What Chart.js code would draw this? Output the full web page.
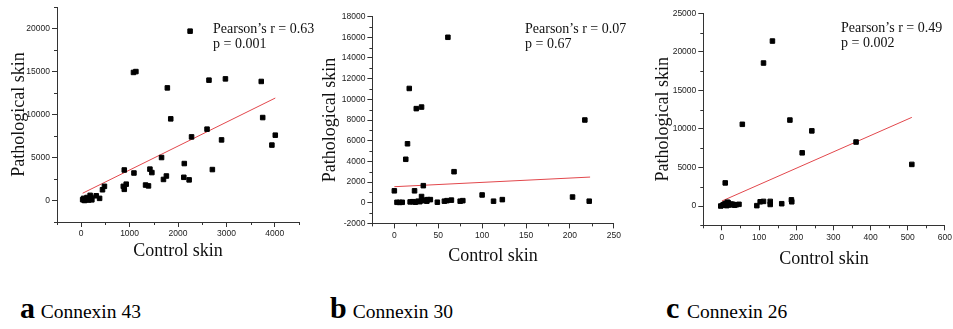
<!DOCTYPE html>
<html>
<head>
<meta charset="utf-8">
<script src="https://cdn.jsdelivr.net/npm/chart.js@4.4.1/dist/chart.umd.min.js"></script>
<style>
  html, body { margin: 0; padding: 0; background: #fff; width: 953px; height: 329px; overflow: hidden; }
  canvas { position: absolute; }
  .ann { position: absolute; font-family: 'Liberation Serif', 'Times New Roman', serif; font-size: 14px; line-height: 15px; color: #111; white-space: nowrap; }
  .cap-l { position: absolute; font-family: 'Liberation Serif', 'Times New Roman', serif; font-weight: bold; font-size: 30px; line-height: 30px; color: #000; }
  .cap-t { position: absolute; font-family: 'Liberation Serif', 'Times New Roman', serif; font-size: 19.5px; line-height: 19.5px; color: #000; white-space: nowrap; }
</style>
</head>
<body>
<canvas id="ca" width="320" height="262" style="left:0px;top:0px;width:320px;height:262px"></canvas>
<canvas id="cb" width="324" height="267" style="left:310px;top:0px;width:324px;height:267px"></canvas>
<canvas id="cc" width="324" height="270" style="left:630px;top:0px;width:324px;height:270px"></canvas>

<div class="ann" style="left:213px;top:20.5px">Pearson’s r = 0.63<br>p = 0.001</div>
<div class="ann" style="left:525px;top:20.5px">Pearson’s r = 0.07<br>p = 0.67</div>
<div class="ann" style="left:841px;top:19.5px">Pearson’s r = 0.49<br>p = 0.002</div>

<span class="cap-l" style="left:20px;top:293px">a</span><span class="cap-t" style="left:40.7px;top:301.7px">Connexin 43</span>
<span class="cap-l" style="left:330px;top:293px">b</span><span class="cap-t" style="left:352.7px;top:301.7px">Connexin 30</span>
<span class="cap-l" style="left:666px;top:293px">c</span><span class="cap-t" style="left:687px;top:301.7px">Connexin 26</span>

<script>
// ---------- Panel a: Connexin 43 ----------
const a_control = [30, 50, 70, 100, 120, 150, 170, 185, 210, 220, 60,
  310, 380, 440, 480, 870, 890, 890, 930, 1090, 1080, 1130,
  1330, 1390, 1420, 1460, 1660, 1700, 1760, 1780, 1850,
  2120, 2130, 2230, 2250, 2280, 2600, 2640, 2710, 2900, 2980,
  3720, 3750, 3940, 4010];
const a_patho = [100, 250, 0, 150, 350, 50, 200, 600, 300, 80, 50,
  550, 250, 1250, 1650, 1650, 1300, 3550, 1900, 3200, 14900, 15000,
  1800, 1700, 3650, 3250, 5000, 2450, 2850, 13100, 9500,
  2700, 4300, 2400, 19700, 7400, 8300, 14000, 3600, 7050, 14150,
  13850, 9650, 6450, 7600];
const a_fitX = [30, 4010];
const a_fitY = [850, 11920];
const a_xTicks = [0, 1000, 2000, 3000, 4000];
const a_yTicks = [0, 5000, 10000, 15000, 20000];

// ---------- Panel b: Connexin 30 ----------
const b_control = [0, 3, 6, 9, 13, 15, 17, 18, 21, 23, 24, 25, 27, 29, 31, 31, 32, 33, 35, 37, 38, 41,
  49, 57, 60, 61, 65, 68, 75, 78, 100, 113, 123, 203, 217, 222];
const b_patho = [1150, 40, 30, 40, 4200, 5700, 11050, 80, 100, 1150, 50, 9100, 150, 100, 600, 9250, 200, 1650, 250, 150, 300, 300,
  50, 150, 200, 16000, 250, 3000, 150, 200, 750, 150, 300, 550, 8000, 150];
const b_fitX = [0, 223];
const b_fitY = [1550, 2480];
const b_xTicks = [0, 50, 100, 150, 200, 250];
const b_yTicks = [-2000, 0, 2000, 4000, 6000, 8000, 10000, 12000, 14000, 16000, 18000];

// ---------- Panel c: Connexin 26 ----------
const c_control = [-3, 2, 4, 7, 9, 11, 13, 15, 17, 19, 21, 25, 30, 34, 39, 46, 55, 94, 103, 112, 112, 130, 130, 136,
  161, 183, 187, 188, 216, 242, 361, 511];
const c_patho = [0, 100, 150, 250, 3000, 350, 50, 500, 430, 150, 170, 250, 220, 100, 170, 220, 10600, 50, 550, 600, 18550, 600, 200, 21400,
  300, 11150, 800, 550, 6900, 9750, 8300, 5400];
const c_fitX = [0, 511];
const c_fitY = [650, 11500];
const c_xTicks = [0, 100, 200, 300, 400, 500, 600];
const c_yTicks = [0, 5000, 10000, 15000, 20000, 25000];

const SERIF = "'Liberation Serif', 'Times New Roman', serif";
const SANS = "'Liberation Sans', Arial, sans-serif";
const AXIS_COLOR = '#333';

const minorTicks = {
  id: 'minorTicks',
  afterDraw(chart) {
    const ctx = chart.ctx;
    ctx.save();
    ctx.strokeStyle = AXIS_COLOR;
    ctx.lineWidth = 1;
    const xs = chart.scales.x, ys = chart.scales.y;
    xs.ticks.forEach(t => {
      if (t.major) return;
      const p = Math.round(xs.getPixelForValue(t.value)) + 0.5;
      ctx.beginPath(); ctx.moveTo(p, xs.top); ctx.lineTo(p, xs.top + 3); ctx.stroke();
    });
    ys.ticks.forEach(t => {
      if (t.major) return;
      const p = Math.round(ys.getPixelForValue(t.value)) + 0.5;
      ctx.beginPath(); ctx.moveTo(ys.right, p); ctx.lineTo(ys.right - 3, p); ctx.stroke();
    });
    ctx.restore();
  }
};

function withMinors(majors, min, max) {
  const step = majors[1] - majors[0];
  const out = [];
  for (let v = min; v <= max + 1e-9; v += step / 2) {
    const isMajor = majors.some(m => Math.abs(m - v) < 1e-6);
    out.push({ value: v, major: isMajor });
  }
  return out;
}

function makePanel(id, xs, ys, fx, fy, xTicks, yTicks, lim, lay) {
  const pts = xs.map((x, i) => ({ x: x, y: ys[i] }));
  const fit = fx.map((x, i) => ({ x: x, y: fy[i] }));
  const axisCommon = (ticksArr, mn, mx) => ({
    type: 'linear', min: mn, max: mx,
    afterBuildTicks: s => { s.ticks = withMinors(ticksArr, mn, mx); },
    grid: {
      display: true, drawOnChartArea: false, drawTicks: true, tickLength: 5, tickWidth: 1,
      tickColor: c => (c.tick && c.tick.major) ? AXIS_COLOR : 'rgba(0,0,0,0)'
    },
    border: { display: true, color: AXIS_COLOR, width: 1 },
    ticks: {
      autoSkip: false, maxRotation: 0, minRotation: 0, padding: 2,
      font: { family: SANS, size: 8.5 }, color: '#222',
      callback: (v, i, arr) => arr[i].major ? String(v) : ''
    }
  });
  const xAxis = axisCommon(xTicks, lim.xmin, lim.xmax);
  xAxis.title = { display: true, text: 'Control skin', color: '#111', font: { family: SERIF, size: 18 }, padding: { top: 0, bottom: 0 } };
  xAxis.afterFit = s => { s.height = lay.xh; };
  const yAxis = axisCommon(yTicks, lim.ymin, lim.ymax);
  yAxis.title = { display: true, text: 'Pathological skin', color: '#111', font: { family: SERIF, size: 18 }, padding: { top: lay.ytp, bottom: 0 } };
  yAxis.afterFit = s => { s.width = lay.yw; };

  new Chart(document.getElementById(id), {
    type: 'scatter',
    data: {
      datasets: [
        { type: 'line', data: fit, borderColor: '#e2474c', borderWidth: 1, pointRadius: 0, fill: false, order: 2 },
        { type: 'scatter', data: pts, pointStyle: 'rect', pointRadius: 3.2, backgroundColor: '#000', borderColor: '#000', borderWidth: 1, order: 1 }
      ]
    },
    options: {
      responsive: false, animation: false, devicePixelRatio: 1,
      layout: { padding: { left: 0, top: lay.top, right: lay.right, bottom: 0 } },
      plugins: { legend: { display: false }, tooltip: { enabled: false } },
      scales: { x: xAxis, y: yAxis }
    },
    plugins: [minorTicks]
  });
}

makePanel('ca', a_control, a_patho, a_fitX, a_fitY, a_xTicks, a_yTicks,
  { xmin: -500, xmax: 4500, ymin: -2500, ymax: 22500 },
  { top: 7, right: 21, yw: 57, xh: 40, ytp: 8 });
makePanel('cb', b_control, b_patho, b_fitX, b_fitY, b_xTicks, b_yTicks,
  { xmin: -25, xmax: 250, ymin: -2000, ymax: 18000 },
  { top: 16.6, right: 20.2, yw: 62.4, xh: 43.6, ytp: 9.2 });
makePanel('cc', c_control, c_patho, c_fitX, c_fitY, c_xTicks, c_yTicks,
  { xmin: -50, xmax: 600, ymin: -2500, ymax: 25000 },
  { top: 13.3, right: 8, yw: 73.3, xh: 44.7, ytp: 22 });
</script>
</body>
</html>
